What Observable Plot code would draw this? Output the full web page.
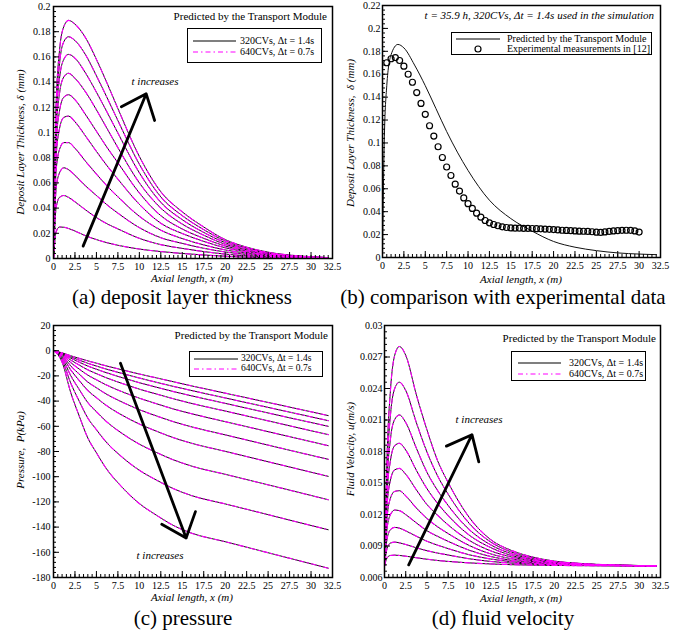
<!DOCTYPE html>
<html><head><meta charset="utf-8">
<script src="https://cdn.jsdelivr.net/npm/d3@7"></script>
<script src="https://cdn.jsdelivr.net/npm/@observablehq/plot@0.6"></script>
<style>
body{margin:0;background:#fff;font-family:"Liberation Serif","DejaVu Serif","Times New Roman",serif;color:#000;}
#root{position:relative;width:691px;height:635px;overflow:hidden;background:#fff;}
.panel{position:absolute;}
.t{position:absolute;white-space:nowrap;line-height:1;font-family:"Liberation Serif","DejaVu Serif",serif;}
.cap{font-size:21px;transform:translate(-50%,-50%);}
.xl{font-size:11px;font-style:italic;transform:translate(-50%,-50%);}
.yl{font-size:11px;font-style:italic;transform:translate(-50%,-50%) rotate(-90deg);}
.ttl{font-size:11px;transform:translate(-100%,-50%);}
.it{font-style:italic;}
.ti{font-size:11px;font-style:italic;transform:translate(-50%,-50%);}
.legend{position:absolute;box-sizing:border-box;border:1.3px solid #000;background:#fff;font-size:10px;font-family:"Liberation Serif","DejaVu Serif",serif;}
.legend.sm{font-size:9.5px;}
.legend span{position:absolute;white-space:nowrap;line-height:1;transform:translateY(-50%);}
.legend svg{position:absolute;left:0;top:0;}
</style></head>
<body><div id="root">
<div id="pa" class="panel" style="left:0;top:0"></div>
<div id="pb" class="panel" style="left:345px;top:0"></div>
<div id="pc" class="panel" style="left:0;top:300px"></div>
<div id="pd" class="panel" style="left:345px;top:300px"></div>

<div class="t ttl" style="left:327px;top:16px">Predicted by the Transport Module</div>
<div class="legend" style="left:187px;top:28px;width:135px;height:35px">
 <svg width="135" height="35"><line x1="5" x2="48" y1="12" y2="12" stroke="#000" stroke-width="1.2"/><line x1="5" x2="48" y1="23" y2="23" stroke="#f0f" stroke-width="1.2" stroke-dasharray="5,3,1.5,3"/></svg>
 <span style="left:52px;top:12px">320CVs, Δt = 1.4s</span><span style="left:52px;top:23px">640CVs, Δt = 0.7s</span>
</div>
<div class="t ti" style="left:155px;top:81px">t increases</div>
<div class="t xl" style="left:192px;top:278px">Axial length, x (m)</div>
<div class="t yl" style="left:20px;top:142px">Deposit Layer Thickness, δ (mm)</div>
<div class="t cap" style="left:182px;top:297px">(a) deposit layer thickness</div>

<div class="t ttl it" style="left:654px;top:15px">t = 35.9 h, 320CVs, Δt = 1.4s used in the simulation</div>
<div class="legend" style="left:451px;top:32px;width:201px;height:23px">
 <svg width="201" height="23"><line x1="4" x2="48" y1="6" y2="6" stroke="#000" stroke-width="1.2"/><circle cx="26" cy="16" r="3" fill="none" stroke="#000" stroke-width="1.2"/></svg>
 <span style="left:55px;top:6px">Predicted by the Transport Module</span><span style="left:55px;top:16px">Experimental measurements in [12]</span>
</div>
<div class="t xl" style="left:521px;top:279px">Axial length, x (m)</div>
<div class="t yl" style="left:350px;top:133px">Deposit Layer Thickness,&nbsp; δ (mm)</div>
<div class="t cap" style="left:503px;top:297px">(b) comparison with experimental data</div>

<div class="t ttl" style="left:328px;top:335px">Predicted by the Transport Module</div>
<div class="legend sm" style="left:189px;top:351px;width:134px;height:26px">
 <svg width="134" height="26"><line x1="4" x2="48" y1="7" y2="7" stroke="#000" stroke-width="1.2"/><line x1="4" x2="48" y1="17" y2="17" stroke="#f0f" stroke-width="1.2" stroke-dasharray="5,3,1.5,3"/></svg>
 <span style="left:51px;top:7px">320CVs, Δt = 1.4s</span><span style="left:51px;top:17px">640CVs, Δt = 0.7s</span>
</div>
<div class="t ti" style="left:160px;top:555px">t increases</div>
<div class="t xl" style="left:192px;top:597px">Axial length, x (m)</div>
<div class="t yl" style="left:20px;top:450px">Pressure,&nbsp; P(kPa)</div>
<div class="t cap" style="left:183px;top:618px">(c) pressure</div>

<div class="t ttl" style="left:656px;top:338px">Predicted by the Transport Module</div>
<div class="legend" style="left:511px;top:351px;width:135px;height:30px">
 <svg width="135" height="30"><line x1="6" x2="49" y1="11" y2="11" stroke="#000" stroke-width="1.2"/><line x1="6" x2="49" y1="22" y2="22" stroke="#f0f" stroke-width="1.2" stroke-dasharray="5,3,1.5,3"/></svg>
 <span style="left:57px;top:11px">320CVs, Δt = 1.4s</span><span style="left:57px;top:22px">640CVs, Δt = 0.7s</span>
</div>
<div class="t ti" style="left:479px;top:419px">t increases</div>
<div class="t xl" style="left:521px;top:598px">Axial length, x (m)</div>
<div class="t yl" style="left:350px;top:449px">Fluid Velocity, u(m/s)</div>
<div class="t cap" style="left:503px;top:618px">(d) fluid velocity</div>
</div>
<script>
// ---------- data ----------
const xGrid = [0, 0.3, 0.7, 1.2, 1.75, 2.5, 3.75, 5, 6.25, 7.5, 10, 12.5, 15, 17.5, 20, 22.5, 25, 27.5, 30, 32];
const dep1 = [0, 0.021, 0.025, 0.0248, 0.0238, 0.0218, 0.018, 0.015, 0.0125, 0.0105, 0.0075, 0.0055, 0.004, 0.0028, 0.0018, 0.0011, 0.0006, 0.0003, 0.0002, 0.0001];
const dep2 = [0, 0.040, 0.0485, 0.050, 0.0485, 0.045, 0.0385, 0.0325, 0.0275, 0.0235, 0.016, 0.011, 0.008, 0.0055, 0.0035, 0.0021, 0.0012, 0.0007, 0.0004, 0.0002];
const dep3 = [0, 0.055, 0.068, 0.072, 0.0705, 0.066, 0.0575, 0.050, 0.0425, 0.036, 0.0245, 0.0165, 0.012, 0.0081, 0.0052, 0.0032, 0.0018, 0.0009, 0.0005, 0.0003];
const dep4 = [0, 0.069, 0.0865, 0.092, 0.092, 0.0875, 0.077, 0.067, 0.0575, 0.049, 0.0335, 0.0225, 0.0158, 0.0108, 0.0068, 0.0042, 0.0023, 0.0012, 0.0007, 0.0004];
const dep5 = [0, 0.080, 0.103, 0.112, 0.113, 0.1085, 0.097, 0.085, 0.0735, 0.063, 0.043, 0.028, 0.0198, 0.0136, 0.0085, 0.0052, 0.0028, 0.0015, 0.0008, 0.0005];
const dep6 = [0, 0.090, 0.117, 0.128, 0.130, 0.126, 0.114, 0.101, 0.088, 0.076, 0.052, 0.034, 0.0234, 0.016, 0.0099, 0.006, 0.0033, 0.0017, 0.0009, 0.0005];
const dep7 = [0, 0.0985, 0.131, 0.144, 0.147, 0.143, 0.132, 0.118, 0.103, 0.088, 0.060, 0.040, 0.0273, 0.0185, 0.0113, 0.0069, 0.0038, 0.0021, 0.0011, 0.0006];
const dep8 = [0, 0.107, 0.143, 0.158, 0.162, 0.159, 0.147, 0.132, 0.116, 0.0996, 0.068, 0.0446, 0.0308, 0.0207, 0.0126, 0.0076, 0.0042, 0.0023, 0.0012, 0.0006];
const dep9 = [0, 0.1135, 0.1545, 0.172, 0.176, 0.173, 0.1615, 0.145, 0.1275, 0.1095, 0.0748, 0.0489, 0.034, 0.0229, 0.0139, 0.0084, 0.0046, 0.0025, 0.0013, 0.0007];
const dep10 = [0, 0.120, 0.165, 0.184, 0.189, 0.186, 0.175, 0.158, 0.139, 0.119, 0.081, 0.053, 0.037, 0.025, 0.015, 0.009, 0.005, 0.0027, 0.0014, 0.0007];

const xLineB = [0, 0.2, 0.5, 1, 1.8, 2.5, 3.75, 5, 6.25, 7.5, 10, 12.5, 15, 17.5, 20, 22.5, 25, 27.5, 30, 32];
const predB = [0, 0.10, 0.15, 0.177, 0.186, 0.183, 0.168, 0.150, 0.130, 0.110, 0.076, 0.050, 0.034, 0.023, 0.014, 0.009, 0.006, 0.004, 0.003, 0.0025];
const expX = [0.5, 1, 1.5, 2, 2.5, 3, 3.5, 4, 4.5, 5, 5.5, 6, 6.5, 7, 7.5, 8, 8.5, 9, 9.5, 10, 10.5, 11, 11.5, 12, 12.5, 13, 13.5, 14, 14.5, 15, 15.5, 16, 16.5, 17, 17.5, 18, 18.5, 19, 19.5, 20, 20.5, 21, 21.5, 22, 22.5, 23, 23.5, 24, 24.5, 25, 25.5, 26, 26.5, 27, 27.5, 28, 28.5, 29, 29.5, 30];
const expY = [0.170, 0.1735, 0.1745, 0.172, 0.167, 0.160, 0.153, 0.144, 0.1345, 0.125, 0.115, 0.106, 0.0967, 0.0873, 0.079, 0.0716, 0.064, 0.058, 0.052, 0.047, 0.0428, 0.0387, 0.0352, 0.0323, 0.0303, 0.0288, 0.0277, 0.0268, 0.0262, 0.0258, 0.0256, 0.0256, 0.0255, 0.0255, 0.0253, 0.0252, 0.025, 0.0248, 0.0246, 0.0244, 0.0241, 0.0238, 0.0236, 0.0234, 0.0232, 0.023, 0.0229, 0.0228, 0.0225, 0.0221, 0.0219, 0.0223, 0.0228, 0.0232, 0.0235, 0.0237, 0.0238, 0.0237, 0.0232, 0.0222];

const xP = [0, 0.5, 1, 2, 3, 4, 5, 6, 8, 10, 12, 14, 16, 20, 24, 28, 32];
const pres1 = [0, -0.8, -1.7, -4.0, -6.1, -8.1, -9.9, -11.8, -15.2, -18.5, -21.6, -24.7, -27.8, -33.7, -39.6, -45.5, -51.5];
const pres2 = [0, -0.9, -2.0, -4.9, -7.5, -10.0, -12.2, -14.3, -18.1, -21.7, -25.1, -28.4, -31.5, -37.5, -43.5, -49.5, -55.5];
const pres3 = [0, -1.0, -2.2, -5.9, -9.1, -12.2, -14.7, -17.1, -21.4, -25.4, -29.0, -32.5, -35.7, -41.8, -47.9, -54.0, -60.0];
const pres4 = [0, -1.1, -2.6, -7.4, -11.4, -15.2, -18.2, -21.1, -26.0, -30.5, -34.4, -38.2, -41.7, -47.9, -54.1, -60.4, -66.6];
const pres5 = [0, -1.2, -3.1, -9.4, -14.6, -19.4, -23.1, -26.7, -32.6, -37.7, -42.1, -46.3, -49.9, -56.3, -62.7, -69.0, -75.4];
const pres6 = [0, -1.4, -3.8, -12.0, -18.6, -24.9, -29.4, -33.8, -40.8, -46.8, -51.8, -56.4, -60.3, -66.8, -73.3, -79.8, -86.2];
const pres7 = [0, -1.7, -4.6, -15.2, -23.7, -31.6, -37.3, -42.7, -51.2, -58.2, -63.9, -69.1, -73.3, -79.9, -86.5, -93.1, -99.7];
const pres8 = [0, -2.0, -5.7, -19.7, -30.8, -41.2, -48.4, -55.2, -65.7, -74.2, -80.8, -86.7, -91.4, -98.1, -104.8, -111.5, -118.3];
const pres9 = [0, -2.4, -7.2, -25.6, -40.1, -53.5, -62.7, -71.4, -84.5, -94.9, -102.7, -109.6, -114.8, -121.6, -128.4, -135.3, -142.1];
const pres10 = [0, -3.0, -9.1, -33.1, -51.9, -69.3, -81.0, -92.1, -108.4, -121.3, -130.6, -138.8, -144.6, -151.6, -158.6, -165.6, -172.6];

const vel1 = [0.0071, 0.00787, 0.0081, 0.00813, 0.0081, 0.00803, 0.00788, 0.00774, 0.00762, 0.00753, 0.00739, 0.00729, 0.00722, 0.00718, 0.00715, 0.00713, 0.00712, 0.00711, 0.0071, 0.0071];
const vel2 = [0.0071, 0.00876, 0.00928, 0.00937, 0.0093, 0.00914, 0.00883, 0.00855, 0.00833, 0.00814, 0.00778, 0.00753, 0.00737, 0.00726, 0.00719, 0.00715, 0.00713, 0.00712, 0.00711, 0.0071];
const vel3 = [0.0071, 0.00967, 0.01055, 0.01077, 0.0107, 0.01044, 0.00993, 0.00945, 0.00908, 0.00875, 0.00816, 0.00776, 0.0075, 0.00734, 0.00724, 0.00718, 0.00715, 0.00713, 0.00711, 0.00711];
const vel4 = [0.0071, 0.01066, 0.01199, 0.01242, 0.01237, 0.01199, 0.0112, 0.01045, 0.00992, 0.00944, 0.00859, 0.008, 0.00763, 0.00742, 0.00729, 0.00721, 0.00717, 0.00714, 0.00712, 0.00711];
const vel5 = [0.0071, 0.01169, 0.01355, 0.0142, 0.01427, 0.01377, 0.01262, 0.01162, 0.01083, 0.01018, 0.00904, 0.00825, 0.00778, 0.00751, 0.00734, 0.00724, 0.00719, 0.00715, 0.00713, 0.00711];
const vel6 = [0.0071, 0.01277, 0.01528, 0.01625, 0.01639, 0.01583, 0.01435, 0.01295, 0.01193, 0.011, 0.00952, 0.00854, 0.00794, 0.0076, 0.00738, 0.00727, 0.0072, 0.00716, 0.00713, 0.00711];
const vel7 = [0.0071, 0.01387, 0.01714, 0.01855, 0.01878, 0.01814, 0.01621, 0.01446, 0.01306, 0.01189, 0.01002, 0.00885, 0.00809, 0.00768, 0.00743, 0.00729, 0.00722, 0.00716, 0.00713, 0.00712];
const vel8 = [0.0071, 0.01501, 0.01918, 0.02105, 0.02148, 0.02076, 0.01832, 0.01602, 0.01429, 0.01285, 0.01055, 0.00911, 0.00825, 0.00776, 0.00747, 0.00732, 0.00723, 0.00717, 0.00714, 0.00712];
const vel9 = [0.0071, 0.0162, 0.02145, 0.02399, 0.0246, 0.02381, 0.02075, 0.01795, 0.01568, 0.01393, 0.01113, 0.00938, 0.00841, 0.00785, 0.00752, 0.00735, 0.00724, 0.00718, 0.00714, 0.00712];
const vel10 = [0.0071, 0.01755, 0.02382, 0.02716, 0.028, 0.02716, 0.0234, 0.02006, 0.01713, 0.01504, 0.0117, 0.00961, 0.00856, 0.00794, 0.00756, 0.00737, 0.00725, 0.00718, 0.00714, 0.00712];

// annotation arrows (data coordinates)
const arrowA = [{x1: 3.45, y1: 0.0098, x2: 10.8, y2: 0.1307}];
const arrowC = [{x1: 7.8, y1: -10, x2: 15.45, y2: -148.7}];
const arrowD = [{x1: 2.85, y1: 0.0072, x2: 10.3, y2: 0.0196}];

// ticks
const xTicks = [0, 2.5, 5, 7.5, 10, 12.5, 15, 17.5, 20, 22.5, 25, 27.5, 30, 32.5];
const yTicksA = [0, 0.02, 0.04, 0.06, 0.08, 0.1, 0.12, 0.14, 0.16, 0.18, 0.2];
const yTicksB = [0, 0.02, 0.04, 0.06, 0.08, 0.1, 0.12, 0.14, 0.16, 0.18, 0.2, 0.22];
const yTicksC = [-180, -160, -140, -120, -100, -80, -60, -40, -20, 0, 20];
const yTicksD = [0.006, 0.009, 0.012, 0.015, 0.018, 0.021, 0.024, 0.027, 0.03];

// ---------- build ----------
const rows = (xs, list) => list.flatMap((ys, k) => ys.map((y, i) => ({x: xs[i], y, k})));
const depRows = rows(xGrid, [dep1, dep2, dep3, dep4, dep5, dep6, dep7, dep8, dep9, dep10]);
const presRows = rows(xP, [pres1, pres2, pres3, pres4, pres5, pres6, pres7, pres8, pres9, pres10]);
const velRows = rows(xGrid, [vel1, vel2, vel3, vel4, vel5, vel6, vel7, vel8, vel9, vel10]);
const lineB = xLineB.map((x, i) => ({x, y: predB[i]}));
const expB = expX.map((x, i) => ({x, y: expY[i]}));

const fmt = d => String(+(+d).toFixed(4));
const FONT = '"Liberation Serif", "DejaVu Serif", "Times New Roman", serif';

function pair(data) {
  return [
    Plot.line(data, {x: "x", y: "y", z: "k", stroke: "#111", strokeWidth: 1, curve: "monotone-x", clip: true}),
    Plot.line(data, {x: "x", y: "y", z: "k", stroke: "#ff00ff", strokeWidth: 1.1, strokeDasharray: "5,3,1.5,3", curve: "monotone-x", clip: true})
  ];
}
function arrow(d) {
  return Plot.arrow(d, {x1: "x1", y1: "y1", x2: "x2", y2: "y2", stroke: "black", strokeWidth: 2.8, headLength: 15, headAngle: 80});
}

function panel(el, o) {
  const fw = o.width - o.mL - o.mR, fh = o.height - o.mT - o.mB;
  const xMinor = d3.range(0, 32.51, 0.5);
  const yMinor = d3.range(o.yDomain[0], o.yDomain[1] + o.yMinor / 2, o.yMinor);
  const p = Plot.plot({
    width: o.width, height: o.height,
    marginLeft: o.mL, marginRight: o.mR, marginTop: o.mT, marginBottom: o.mB,
    x: {domain: [0, 32.5], label: null},
    y: {domain: o.yDomain, label: null},
    style: {fontFamily: FONT, fontSize: "10px", background: "transparent", color: "black", overflow: "visible"},
    marks: [
      ...o.marks,
      Plot.tickX(xMinor, {x: d => d, insetTop: fh - 3, stroke: "black", strokeWidth: 1}),
      Plot.tickX(xTicks, {x: d => d, insetTop: fh - 6, stroke: "black", strokeWidth: 1}),
      Plot.tickY(yMinor, {y: d => d, insetRight: fw - 3, stroke: "black", strokeWidth: 1}),
      Plot.tickY(o.yTicks, {y: d => d, insetRight: fw - 6, stroke: "black", strokeWidth: 1}),
      Plot.axisX({ticks: xTicks, tickSize: 0, tickPadding: 4, tickFormat: fmt, label: null}),
      Plot.axisY({ticks: o.yTicks, tickSize: 0, tickPadding: o.pad ?? 3, tickFormat: fmt, label: null}),
      Plot.frame({stroke: "black", strokeWidth: 1.5})
    ]
  });
  document.getElementById(el).appendChild(p);
}

panel("pa", {width: 345, height: 275, mL: 53, mR: 13, mT: 6, mB: 17, yDomain: [0, 0.2], yTicks: yTicksA, yMinor: 0.004,
  marks: [...pair(depRows), arrow(arrowA)]});
panel("pb", {width: 346, height: 275, mL: 37, mR: 31, mT: 5, mB: 18, yDomain: [0, 0.22], yTicks: yTicksB, yMinor: 0.004, pad: 2,
  marks: [
    Plot.line(lineB, {x: "x", y: "y", stroke: "#111", strokeWidth: 1, curve: "monotone-x"}),
    Plot.dot(expB, {x: "x", y: "y", r: 3, stroke: "black", strokeWidth: 1.2, fill: "none"})
  ]});
panel("pc", {width: 345, height: 295, mL: 53, mR: 13, mT: 25, mB: 18, yDomain: [-180, 20], yTicks: yTicksC, yMinor: 4,
  marks: [...pair(presRows), arrow(arrowC)]});
panel("pd", {width: 346, height: 295, mL: 39, mR: 31, mT: 25, mB: 18, yDomain: [0.006, 0.03], yTicks: yTicksD, yMinor: 0.0006, pad: 2,
  marks: [...pair(velRows), arrow(arrowD)]});
</script>
</body></html>
